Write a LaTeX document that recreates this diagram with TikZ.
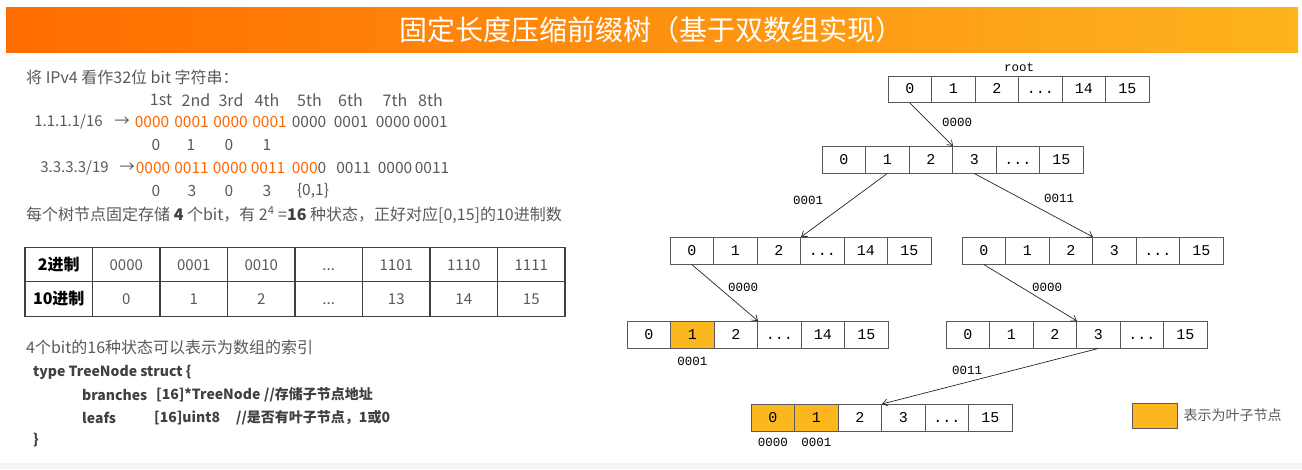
\documentclass[tikz,border=0pt]{standalone}
\usepackage{fontspec}
\setmainfont{Noto Sans CJK SC}
\newfontfamily\treefont{Liberation Mono}
\usetikzlibrary{positioning, arrows.meta}
\definecolor{title-left}{RGB}{255,108,0}
\definecolor{title-right}{RGB}{253,180,30}
\definecolor{text-gray}{RGB}{89,89,89}
\definecolor{bit-orange}{RGB}{255,102,0}
\definecolor{leaf-color}{RGB}{253,183,30}
\definecolor{code-gray}{RGB}{64,64,64}

\newcommand{\celldots}{...}
\newcommand{\tabdots}{...}

% one array of a tree node: name, left x, top y, list of label/fill
\newcommand{\noderow}[4]{%
  \foreach \lab/\fc [count=\i from 0] in {#4}
    \node[cell, fill=\fc] (#1-\i) at ({#2+21.75+43.5*\i}, {#3+13.25}) {\lab};
}

\begin{document}
\begin{tikzpicture}[
    x=1pt, y=-1pt,
    % tree arrays
    cell/.style={draw=black!65, line width=1pt, minimum width=43.5pt, minimum height=26.5pt,
                 inner sep=0pt, text height=8.5pt, text depth=0pt,
                 font=\treefont\fontsize{15}{15}\selectfont},
    arr/.style={-{Straight Barb[length=5pt,width=7pt]}, line width=0.7pt, black!85},
    lbl/.style={font=\treefont\fontsize{12.5}{13}\selectfont, inner sep=1pt},
    % left side text
    txt/.style={font=\fontsize{16}{19}\selectfont, text=text-gray, anchor=west, inner sep=0pt},
    num/.style={font=\fontsize{15.5}{19}\selectfont, text=text-gray, inner sep=0pt},
    bit/.style={num, text=bit-orange},
    code/.style={font=\bfseries\fontsize{14}{17}\selectfont, text=code-gray, anchor=west, inner sep=0pt},
    tcell/.style={draw=code-gray, line width=1.2pt, minimum width=67.5pt, minimum height=34.5pt,
                  inner sep=0pt, text height=11pt, text depth=0pt,
                  font=\fontsize{15}{18}\selectfont, text=text-gray},
    thead/.style={tcell, font=\bfseries\fontsize{16}{18}\selectfont, text=black}
]
\useasboundingbox (0,0) rectangle (1302,469);
\fill[gray!8] (0,463) rectangle (1302,469);

% ===== title bar =====
\shade[left color=title-left, right color=title-right] (6,7) rectangle (1298,52);
\node[font=\fontsize{28}{30}\selectfont, text=white] (title) at (651,30)
    {固定长度压缩前缀树（基于双数组实现）};

% ===== bit strings =====
\node[txt] (intro) at (26,77) {将 IPv4 看作32位 bit 字符串：};
\foreach \h/\hx in {1st/161,2nd/196,3rd/231,4th/267,5th/309.5,6th/350.5,7th/395,8th/430.5}
    \node[num, font=\fontsize{16}{19}\selectfont] (head-\h) at (\hx,100) {\h};

\node[num, font=\fontsize{15}{19}\selectfont] (ipa) at (68.5,122) {1.1.1.1/16};
\node[num] (ipa-arrow) at (122,122) {→};
\foreach \g/\gx [count=\i] in {0000/152,0001/191.5,0000/230.5,0001/269.5}
    \node[bit] (ipa-hi-\i) at (\gx,122) {\g};
\foreach \g/\gx [count=\i] in {0000/309,0001/351,0000/393,0001/430.5}
    \node[num] (ipa-lo-\i) at (\gx,122) {\g};
\foreach \d/\dx [count=\i] in {0/156,1/191,0/229,1/267}
    \node[num] (ipa-idx-\i) at (\dx,145) {\d};

\node[num, font=\fontsize{15}{19}\selectfont] (ipb) at (74.5,168) {3.3.3.3/19};
\node[num] (ipb-arrow) at (127,168) {→};
\foreach \g/\gx [count=\i] in {0000/153,0011/191.5,0000/230,0011/268}
    \node[bit] (ipb-hi-\i) at (\gx,168) {\g};
\node[num] (ipb-lo-1) at (309,168) {\textcolor{bit-orange}{000}0};
\foreach \g/\gx [count=\i from 2] in {0011/353.5,0000/395,0011/432}
    \node[num] (ipb-lo-\i) at (\gx,168) {\g};
\foreach \d/\dx [count=\i] in {0/156,3/192,0/229,3/267,{\{0,1\}}/313}
    \node[num] (ipb-idx-\i) at (\dx,191) {\d};

\node[txt] (states) at (26,215) {每个树节点固定存储 {\bfseries\color{code-gray}4} 个bit，有 2\textsuperscript{4} =\textbf{\color{code-gray}16} 种状态，正好对应[0,15]的10进制数};

% ===== table =====
\node[thead] (bin-0) at (58.75,264.5) {2进制};
\node[thead] (dec-0) at (58.75,299) {10进制};
\foreach \b/\d [count=\i] in {0000/0,0001/1,0010/2,\tabdots/\tabdots,1101/13,1110/14,1111/15} {
    \node[tcell] (bin-\i) at ({58.75+67.5*\i},264.5) {\b};
    \node[tcell] (dec-\i) at ({58.75+67.5*\i},299) {\d};
}

\node[txt] (index) at (26,347) {4个bit的16种状态可以表示为数组的索引};
\node[code] (code-1) at (33,372) {type TreeNode struct \{};
\node[code] (code-2a) at (82,395) {branches};
\node[code] (code-2b) at (156,395) {[16]*TreeNode};
\node[code] (code-2c) at (264,395) {//存储子节点地址};
\node[code] (code-3a) at (82,418) {leafs};
\node[code] (code-3b) at (154,418) {[16]uint8};
\node[code] (code-3c) at (236,418) {//是否有叶子节点，1或0};
\node[code] (code-4) at (33,440) {\}};

% ===== tree =====
\noderow{root}{888}{76}{0/white,1/white,2/white,\celldots/white,14/white,15/white}
\noderow{r2}{822}{146.5}{0/white,1/white,2/white,3/white,\celldots/white,15/white}
\noderow{r3a}{670}{237.5}{0/white,1/white,2/white,\celldots/white,14/white,15/white}
\noderow{r3b}{962}{237.5}{0/white,1/white,2/white,3/white,\celldots/white,15/white}
\noderow{r4a}{627}{321.5}{0/white,1/leaf-color,2/white,\celldots/white,14/white,15/white}
\noderow{r4b}{946}{321.5}{0/white,1/white,2/white,3/white,\celldots/white,15/white}
\noderow{r5}{751}{404.5}{0/leaf-color,1/leaf-color,2/white,3/white,\celldots/white,15/white}

\node[lbl, above=3pt of root-2.north east] (root-name) {root};

\draw[arr] (root-0.south) -- (r2-2.north east);
\draw[arr] (r2-1.south) -- (r3a-2.north east);
\draw[arr] (r2-3.south) -- (r3b-2.north east);
\draw[arr] (r3a-0.south) -- (r4a-2.north east);
\draw[arr] (r3b-0.south) -- (r4b-2.north east);
\draw[arr] (r4b-3.south) -- (r5-2.north east);

\node[lbl] (e1) at (957,122) {0000};
\node[lbl] (e2) at (808,200) {0001};
\node[lbl] (e3) at (1059,198) {0011};
\node[lbl] (e4) at (743,287) {0000};
\node[lbl] (e5) at (1047,287) {0000};
\node[lbl] (e6) at (967,370) {0011};

\node[lbl, below=7pt of r4a-1] (leaf-a) {0001};
\node[lbl, below=5pt of r5-0] (leaf-b) {0000};
\node[lbl, below=5pt of r5-1] (leaf-c) {0001};

% legend
\node[draw=black!65, line width=1pt, fill=leaf-color, minimum width=45pt, minimum height=25pt]
    (legend) at (1154.5,415.5) {};
\node[txt, font=\fontsize{14}{16}\selectfont, right=6pt of legend] (legend-text) {表示为叶子节点};

\end{tikzpicture}
\end{document}
